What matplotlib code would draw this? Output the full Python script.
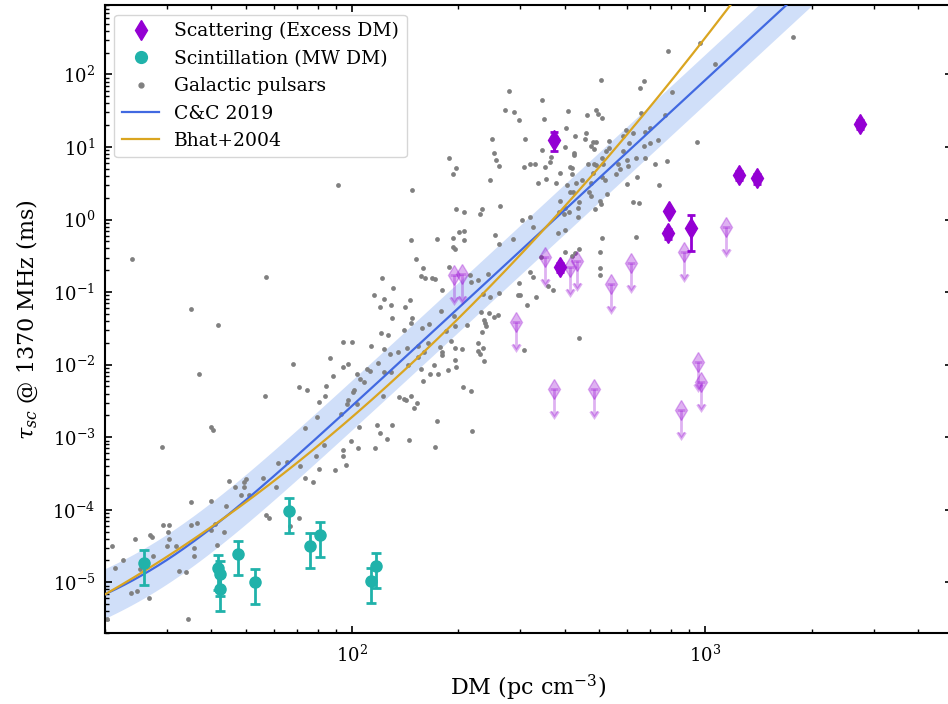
import numpy as np
import matplotlib
matplotlib.use("Agg")
import matplotlib.pyplot as plt
from matplotlib.lines import Line2D

plt.rcParams['font.family'] = ['DejaVu Serif']
plt.rcParams['mathtext.fontset'] = 'dejavuserif'

# ---------------------------------------------------------------
# FRB scattering times attributed to the excess (host) DM
scat_dm = [373, 389, 789, 787, 910, 1245, 1406, 2735]
scat_tau = [12.4, 0.221, 1.32, 0.644, 0.762, 4.10, 3.69, 20.7]
scat_err = [3.5, 0.033, 0.07, 0.10, 0.39, 0.60, 0.55, 3.1]

# FRB scattering upper limits
lim_dm = [195, 204.5, 351, 414, 435, 540, 615, 291, 373, 486, 872, 1148, 957, 975, 853]
lim_tau = [0.172, 0.177, 0.307, 0.219, 0.270, 0.129, 0.249, 0.0383, 0.00457,
           0.00466, 0.360, 0.794, 0.01077, 0.00581, 0.00237]

# Scattering inferred from scintillation, plotted against the Milky Way DM
scint_dm = [25.7, 41.7, 42.4, 42.2, 47.6, 53.1, 66.5, 76.3, 81.2, 112.9, 117.2]
scint_tau = [1.83e-5, 1.56e-5, 1.30e-5, 8.16e-6, 2.49e-5, 1.01e-5, 9.6e-5,
             3.19e-5, 4.46e-5, 1.03e-5, 1.69e-5]
scint_err = [0.92e-5, 0.78e-5, 0.65e-5, 0.41e-5, 1.25e-5, 0.51e-5, 4.8e-5,
             1.6e-5, 2.23e-5, 0.52e-5, 0.85e-5]

# Galactic pulsars: (log10 DM, log10 tau_ms)
gal_pulsars = [
    (2.432, 1.511), (2.396, 1.116), (2.401, 0.911), (2.275, 0.842), (2.409, 0.823),
    (2.417, 0.739), (2.296, 0.711), (2.285, 0.632), (2.390, 0.539), (1.961, 0.474),
    (2.169, 0.409), (2.420, 0.191), (2.294, 0.149), (2.369, 0.144), (2.316, 0.098),
    (2.363, 0.074), (2.302, -0.177), (2.318, -0.163), (2.406, -0.209), (2.240, -0.270),
    (2.167, -0.279), (2.287, -0.256), (2.316, -0.284), (2.415, -0.335), (2.287, -0.382),
    (2.292, -0.405), (1.378, -0.544), (2.181, -0.549), (2.276, -0.651), (2.202, -0.670),
    (1.758, -0.791), (2.084, -0.800), (2.196, -0.777), (2.207, -0.800), (2.227, -0.800),
    (2.234, -0.819), (2.335, -0.763), (2.337, -0.861), (2.358, -0.833), (2.385, -0.744),
    (2.115, -0.949), (2.254, -0.972), (2.370, -1.023), (2.390, -1.061), (2.415, -1.009),
    (2.063, -1.042), (2.092, -1.093), (2.165, -1.112), (2.151, -1.205), (2.079, -1.200),
    (2.111, -1.177), (1.543, -1.233), (2.251, -1.265), (2.364, -1.279), (2.389, -1.284),
    (2.413, -1.312), (2.290, -1.335), (2.169, -1.358), (2.114, -1.358), (2.403, -1.349),
    (2.374, -1.382), (2.378, -1.419), (2.380, -1.470), (2.325, -1.451), (2.292, -1.465),
    (1.621, -1.451), (2.167, -1.428), (2.218, -1.442), (2.198, -1.489), (2.146, -1.521),
    (2.266, -1.530), (2.082, -1.568), (2.101, -1.591), (2.368, -1.554), (1.975, -1.693),
    (2.000, -1.693), (2.358, -1.698), (2.248, -1.763), (2.254, -1.823), (2.256, -1.870),
    (2.054, -1.740), (2.186, -1.744), (2.215, -1.698), (2.155, -1.777), (2.091, -1.782),
    (2.130, -1.823), (2.108, -1.847), (2.280, -1.670), (2.292, -1.768), (2.311, -1.791),
    (2.356, -1.805), (2.363, -1.856), (2.370, -1.777), (2.374, -1.954), (2.292, -1.930),
    (2.205, -1.823), (2.188, -1.893), (1.938, -1.902), (1.832, -1.996), (1.974, -2.033),
    (1.989, -1.991), (2.073, -1.977), (2.160, -2.000), (2.231, -2.009), (2.294, -2.033),
    (2.273, -2.070), (2.196, -2.056), (2.245, -2.126), (2.043, -2.065), (2.051, -2.093),
    (2.014, -2.130), (1.947, -2.163), (2.092, -2.102), (2.111, -2.102), (2.221, -2.135),
    (1.568, -2.126), (2.023, -2.196), (2.035, -2.233), (2.200, -2.224), (1.926, -2.289),
    (1.851, -2.312), (1.873, -2.354), (2.006, -2.349), (2.004, -2.382), (1.989, -2.489),
    (1.987, -2.544), (2.013, -2.544), (1.907, -2.521), (1.925, -2.428), (2.313, -2.303),
    (2.337, -2.368), (2.089, -2.428), (2.134, -2.451), (2.146, -2.474), (2.152, -2.483),
    (2.167, -2.428), (2.184, -2.535), (2.177, -2.600), (1.754, -2.428), (1.968, -2.684),
    (1.900, -2.721), (2.021, -2.865), (1.600, -2.856), (1.607, -2.907), (2.242, -2.777),
    (2.340, -2.916), (1.867, -2.879), (2.072, -2.833), (2.114, -2.833), (2.079, -2.949),
    (2.098, -3.019), (2.065, -3.149), (2.162, -3.037), (2.235, -3.130), (1.997, -3.056),
    (2.016, -3.144), (1.975, -3.172), (1.922, -3.112), (1.462, -3.130), (1.976, -3.256),
    (1.898, -3.260), (1.817, -3.344), (1.791, -3.358), (1.852, -3.391), (1.907, -3.437),
    (1.952, -3.451), (1.982, -3.386), (1.652, -3.605), (1.701, -3.581), (1.695, -3.623),
    (1.749, -3.563), (1.868, -3.558), (1.890, -3.623), (1.670, -3.689), (1.695, -3.689),
    (1.708, -3.791), (1.784, -3.689), (1.687, -3.796), (1.544, -3.889), (1.600, -3.879),
    (1.644, -3.954),
    (1.756, -4.072), (1.766, -4.114), (1.851, -4.114), (1.464, -4.211), (1.481, -4.211),
    (1.543, -4.211), (1.560, -4.183), (1.600, -4.280), (1.613, -4.192), (1.478, -4.312),
    (1.482, -4.404), (1.427, -4.349), (1.434, -4.381), (1.503, -4.496), (1.477, -4.496),
    (1.552, -4.529), (1.552, -4.635), (1.617, -4.487), (1.637, -4.303), (1.321, -4.496),
    (1.329, -4.810), (1.352, -4.695), (1.385, -4.404), (1.436, -4.635), (1.399, -4.824),
    (1.510, -4.842), (1.529, -4.865), (1.374, -5.151), (1.391, -5.118), (1.426, -5.211),
    (1.536, -5.501), (1.306, -5.501), (1.825, -4.229),
    (2.985, 2.441), (2.895, 2.330), (3.028, 2.138), (2.706, 1.931), (2.827, 1.912),
    (2.816, 1.811), (2.906, 1.756), (2.445, 1.775), (2.539, 1.655), (2.460, 1.485),
    (2.472, 1.371), (2.545, 1.380), (2.692, 1.517), (2.696, 1.453), (2.708, 1.407),
    (2.613, 1.490), (2.666, 1.439), (2.887, 1.439), (2.817, 1.472), (2.607, 1.269),
    (2.491, 1.104), (2.538, 0.953), (2.631, 1.150), (2.664, 1.187), (2.659, 1.104),
    (2.682, 1.072), (2.677, 1.017), (2.692, 1.067), (2.686, 0.971), (2.603, 1.003),
    (2.729, 1.077), (2.777, 1.233), (2.768, 1.150), (2.795, 1.196), (2.829, 1.210),
    (2.845, 1.265), (2.827, 1.017), (2.844, 1.049), (2.867, 1.095), (2.784, 1.049),
    (2.719, 0.948), (2.729, 0.980), (2.709, 0.852), (2.628, 0.920), (2.630, 0.888),
    (2.564, 0.865), (2.562, 0.796), (2.486, 0.718), (2.504, 0.764), (2.518, 0.764),
    (2.547, 0.718), (2.618, 0.718), (2.624, 0.705), (2.624, 0.626), (2.668, 0.773),
    (2.685, 0.773), (2.690, 0.750), (2.652, 0.539), (2.682, 0.636), (2.711, 0.760),
    (2.753, 0.764), (2.766, 0.948), (2.780, 0.819), (2.781, 0.741), (2.805, 0.852),
    (2.831, 0.847), (2.857, 0.764), (2.893, 0.801), (2.976, 1.063), (2.528, 0.502),
    (2.549, 0.562), (2.578, 0.502), (2.588, 0.636), (2.608, 0.479), (2.633, 0.498),
    (2.625, 0.374), (2.676, 0.498), (2.670, 0.378), (2.676, 0.323), (2.618, 0.383),
    (2.708, 0.590), (2.716, 0.544), (2.748, 0.622), (2.760, 0.691), (2.780, 0.484),
    (2.806, 0.581), (2.868, 0.475), (2.721, 0.355), (2.703, 0.254), (2.705, 0.208),
    (2.642, 0.245), (2.639, 0.163), (2.590, 0.250), (2.604, 0.153), (2.587, 0.107),
    (2.600, 0.075), (2.614, 0.103), (2.640, 0.029), (2.688, 0.144), (2.797, 0.245),
    (2.812, 0.227), (2.482, -0.007), (2.503, 0.029), (2.512, -0.104), (2.583, -0.187),
    (2.604, -0.145), (2.457, -0.274), (2.709, -0.251), (2.803, -0.237),
    (2.505, -0.729), (2.521, -1.064), (2.496, -1.179), (2.472, -0.871), (2.469, -1.037),
    (2.477, -1.037), (2.554, -0.917), (2.568, -0.977), (2.512, -0.798), (2.603, -0.449),
    (2.622, -0.504), (2.632, -0.467), (2.701, -0.444), (2.701, -0.669), (2.703, -0.761),
    (2.486, -1.799), (2.642, -1.638), (2.534, -0.513), (2.643, -0.407),
    (3.250, 2.514),
]

# Empirical tau-DM relations evaluated at 1.37 GHz
NU_GHZ = 1.37
CC_AMP, CC_A, CC_B, CC_C = 2.98e-7, 1.4, 3.55e-5, 3.1   # Cordes & Chatterjee 2019
BHAT_A, BHAT_B, BHAT_C = -6.46, 0.129, 1.02              # Bhat et al. 2004
SPEC_IDX = 4.4
CC_SPREAD = 2.2                                         # scatter about the C&C relation

# ---------------------------------------------------------------
gal = np.array(gal_pulsars)
gal_dm = 10 ** gal[:, 0]
gal_tau = 10 ** gal[:, 1]

dm_grid = np.logspace(np.log10(20), np.log10(5000), 400)
tau_cc = CC_AMP * dm_grid ** CC_A * (1 + CC_B * dm_grid ** CC_C) * NU_GHZ ** (-SPEC_IDX)
lg = np.log10(dm_grid)
tau_bhat = 10 ** (BHAT_A + BHAT_B * lg + BHAT_C * lg ** 2 - SPEC_IDX * np.log10(NU_GHZ))

purple = 'darkviolet'
teal = 'lightseagreen'

fig = plt.figure(figsize=(9.48, 7.04), dpi=100)
ax = fig.add_axes([0.1108, 0.1009, 0.8935, 0.8916])

ax.fill_between(dm_grid, tau_cc / CC_SPREAD, tau_cc * CC_SPREAD,
                color='cornflowerblue', alpha=0.3, lw=0, zorder=1)
ax.scatter(gal_dm, gal_tau, s=12, color='grey', lw=0, zorder=2)
ax.plot(dm_grid, tau_cc, color='royalblue', lw=1.6, zorder=3)
ax.plot(dm_grid, tau_bhat, color='goldenrod', lw=1.6, zorder=3)

ax.errorbar(scint_dm, scint_tau, yerr=scint_err, fmt='o', color=teal, ms=8,
            capsize=3.5, elinewidth=2, capthick=2, zorder=4)
ax.errorbar(scat_dm, scat_tau, yerr=scat_err, fmt='d', color=purple, ms=10,
            capsize=3, elinewidth=2, capthick=2, zorder=5)
lim_arr = np.array(lim_tau)
ax.errorbar(lim_dm, lim_tau, yerr=0.5 * lim_arr, uplims=True, fmt='d', color=purple,
            alpha=0.3, ms=10, capsize=3, elinewidth=2, capthick=2, zorder=4)

ax.set_xscale('log')
ax.set_yscale('log')
ax.set_xlim(20, 5000)
ax.set_ylim(2e-6, 900)

for side in ax.spines.values():
    side.set_linewidth(1.5)
ax.tick_params(which='both', direction='in', top=True, right=True, labelsize=13)
ax.tick_params(axis='x', which='both', pad=8.5)
ax.tick_params(axis='y', which='both', pad=7)
ax.tick_params(which='major', length=5, width=1.2)
ax.tick_params(which='minor', length=3, width=1.0)

ax.set_xlabel(r'DM (pc cm$^{-3}$)', fontsize=16, labelpad=5)
ax.set_ylabel(r'$\tau_{sc}$ @ 1370 MHz (ms)', fontsize=16, labelpad=9)

handles = [
    Line2D([], [], ls='none', marker='d', color=purple, ms=10),
    Line2D([], [], ls='none', marker='o', color=teal, ms=8.5),
    Line2D([], [], ls='none', marker='o', color='grey', ms=3.5),
    Line2D([], [], color='royalblue', lw=1.6),
    Line2D([], [], color='goldenrod', lw=1.6),
]
labels = ['Scattering (Excess DM)', 'Scintillation (MW DM)', 'Galactic pulsars',
          'C&C 2019', 'Bhat+2004']
ax.legend(handles, labels, loc='upper left', fontsize=13.5)

fig.savefig('out.png', dpi=100)
